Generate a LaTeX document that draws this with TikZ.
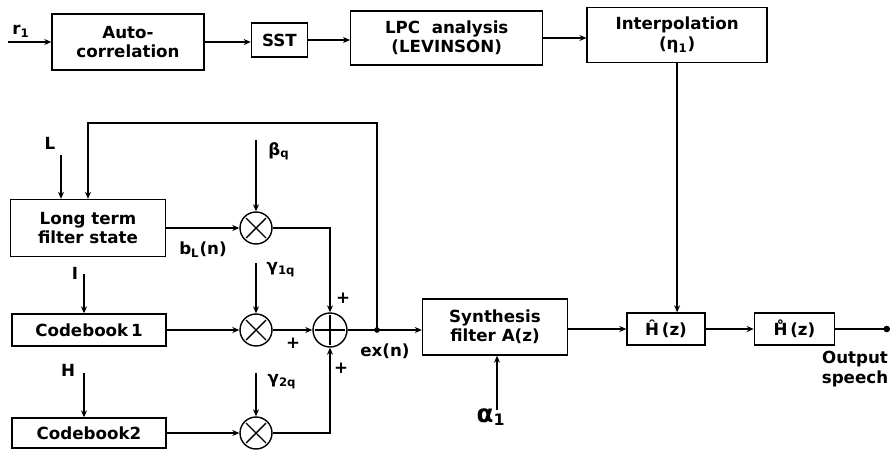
\documentclass[tikz,border=0pt]{standalone}
\usepackage{fontspec}
\setmainfont{DejaVu Sans}
\usetikzlibrary{arrows.meta, positioning}

\begin{document}
\begin{tikzpicture}[
  x=0.02cm, y=-0.02cm,
  box/.style={draw, thick, align=center, inner sep=1pt,
              font=\bfseries\fontsize{9.5}{11}\selectfont},
  lbl/.style={font=\bfseries\fontsize{9.5}{11}\selectfont, inner sep=1pt},
  mult/.style={draw, thick, circle, minimum size=0.64cm, inner sep=0pt,
               path picture={
                 \draw[thick] ([shift={(-0.2cm,-0.2cm)}]path picture bounding box.center)
                   -- ([shift={(0.2cm,0.2cm)}]path picture bounding box.center);
                 \draw[thick] ([shift={(-0.2cm,0.2cm)}]path picture bounding box.center)
                   -- ([shift={(0.2cm,-0.2cm)}]path picture bounding box.center);}},
  adder/.style={draw, thick, circle, minimum size=0.68cm, inner sep=0pt,
               path picture={
                 \draw[thick] ([xshift=-0.3cm]path picture bounding box.center)
                   -- ([xshift=0.3cm]path picture bounding box.center);
                 \draw[thick] ([yshift=-0.3cm]path picture bounding box.center)
                   -- ([yshift=0.3cm]path picture bounding box.center);}},
  arr/.style={-{Stealth[length=1.4mm, width=1.2mm]}, thick},
]
  \useasboundingbox (0,0) rectangle (896,450);

  % analysis chain
  \node[box, minimum width=3.04cm, minimum height=1.12cm] (auto) at (128,42) {Auto-\\correlation};
  \node[box, minimum width=1.12cm, minimum height=0.68cm, right=0.92cm of auto, yshift=0.04cm] (sst) {SST};
  \node[box, minimum width=3.84cm, minimum height=1.08cm, right=0.84cm of sst, yshift=0.04cm] (lpc) {LPC~~analysis\\(LEVINSON)};
  \node[box, minimum width=3.6cm, minimum height=1.1cm, right=0.86cm of lpc, yshift=0.06cm] (interp) {Interpolation\\(η\textsubscript{1})};

  % excitation
  \node[box, minimum width=3.1cm, minimum height=1.14cm] (lts) at (88,228) {Long term\\filter state};
  \node[box, minimum width=3.08cm, minimum height=0.64cm] (cb1) at (89,330) {Codebook\,1};
  \node[box, minimum width=3.08cm, minimum height=0.6cm] (cb2) at (89,433) {Codebook2};
  \node[mult] (m1) at (256,228) {};
  \node[mult] (m2) at (256,330) {};
  \node[mult] (m3) at (256,433) {};
  \node[adder] (add) at (330,330) {};

  % synthesis
  \node[box, minimum width=2.9cm, minimum height=1.12cm] (synth) at (495,327) {Synthesis\\filter A(z)};
  \node[box, minimum width=1.56cm, minimum height=0.64cm] (hhat) at (666,329) {\^{H}\,(z)};
  \node[box, minimum width=1.6cm, minimum height=0.64cm, right=0.96cm of hhat] (hbrev) {\r{H}\,(z)};

  \coordinate (rin) at (8,42);
  \coordinate (lin) at (61,155);
  \coordinate (iin) at (84,274);
  \coordinate (hin) at (84,373);
  \coordinate (bin) at (256,140);
  \coordinate (g1in) at (256,263);
  \coordinate (g2in) at (256,373);
  \coordinate (ain) at (497,410);
  \coordinate (j) at (377,330);
  \coordinate (fb) at (377,123);
  \coordinate (out) at (890,329);

  % labels
  \node[lbl] (lr) at (21,31) {r\textsubscript{1}};
  \node[lbl] (lL) at (50,143) {L};
  \node[lbl] (lI) at (75,273) {I};
  \node[lbl] (lH) at (68,370) {H};
  \node[lbl] (lbeta) at (279,151) {β\textsubscript{q}};
  \node[lbl] (lg1) at (281,270) {γ\textsubscript{1q}};
  \node[lbl] (lg2) at (282,382) {γ\textsubscript{2q}};
  \node[lbl] (lbl) at (203,250) {b\textsubscript{L}(n)};
  \node[lbl] (lex) at (385,351) {ex(n)};
  \node[lbl] (lp1) at (343,298) {+};
  \node[lbl] (lp2) at (293,343) {+};
  \node[lbl] (lp3) at (341,368) {+};
  \node[lbl, font=\bfseries\fontsize{14}{16}\selectfont] (lalpha) at (491,417) {α\textsubscript{\fontsize{9}{10}\selectfont 1}};
  \node[lbl, align=center] (lout) at (855,369) {Output\\speech};

  \draw[arr] (rin) -- (auto);
  \draw[arr] (auto.east) -- (auto.east -| sst.west);
  \draw[arr] (sst.east) -- (sst.east -| lpc.west);
  \draw[arr] (lpc.east) -- (lpc.east -| interp.west);
  \draw[arr] (interp.south) -- (interp.south |- hhat.north);

  \draw[arr] (lin) -- (lin |- lts.north);
  \draw[arr] (j) -- (fb) -| (lts.north);
  \draw[arr] (lts) -- (m1);
  \draw[arr] (bin) -- (m1);
  \draw[arr] (m1) -| (add);
  \draw[arr] (iin) -- (iin |- cb1.north);
  \draw[arr] (cb1) -- (m2);
  \draw[arr] (g1in) -- (m2);
  \draw[arr] (m2) -- (add);
  \draw[arr] (hin) -- (hin |- cb2.north);
  \draw[arr] (cb2) -- (m3);
  \draw[arr] (g2in) -- (m3);
  \draw[arr] (m3) -| (add);
  \draw[arr] (add) -- (add -| synth.west);
  \fill (j) circle[radius=1.6pt];

  \draw[arr] (ain) -- (ain |- synth.south);
  \draw[arr] (synth.east |- hhat) -- (hhat);
  \draw[arr] (hhat) -- (hbrev);
  \draw[-{Circle[length=1.3mm]}, thick] (hbrev) -- (out);
\end{tikzpicture}
\end{document}
